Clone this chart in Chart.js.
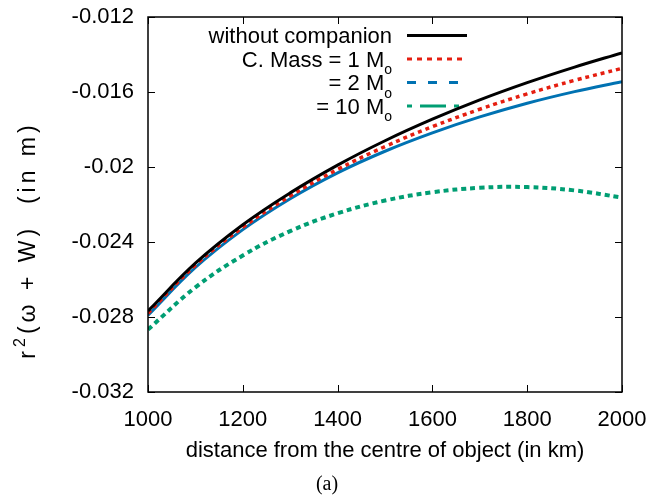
<!DOCTYPE html>
<html>
<head>
<meta charset="utf-8">
<script src="https://cdn.jsdelivr.net/npm/chart.js@4.4.0/dist/chart.umd.min.js"></script>
<style>
  html, body { margin: 0; padding: 0; background: #fff; }
</style>
</head>
<body>
<canvas id="myChart" width="666" height="495"></canvas>
<script>
const distance = [1000, 1100, 1200, 1300, 1400, 1500, 1600, 1700, 1800, 1900, 2000];
const noCompanion = [-0.02768, -0.02513, -0.02308, -0.02138, -0.01990, -0.01860, -0.01745, -0.01642, -0.01550, -0.01467, -0.01391];
const mass1 = [-0.0278, -0.02524, -0.02322, -0.02155, -0.02013, -0.01891, -0.01785, -0.01692, -0.01610, -0.01538, -0.01474];
const mass2 = [-0.02791, -0.02536, -0.02334, -0.02169, -0.02031, -0.01916, -0.01818, -0.01733, -0.01660, -0.01598, -0.01545];
const mass10 = [-0.02867, -0.02642, -0.02472, -0.02342, -0.02247, -0.02179, -0.02135, -0.02111, -0.02107, -0.02125, -0.02163];

const seriesNames = ["without companion", "C. Mass = 1 M", "= 2 M", "= 10 M"];
const seriesSub = ["", "o", "o", "o"];
const xTicks = [1000, 1200, 1400, 1600, 1800, 2000];
const yTicks = [-0.032, -0.028, -0.024, -0.02, -0.016, -0.012];
const yTickLabels = ["-0.032", "-0.028", "-0.024", "-0.02", "-0.016", "-0.012"];

const FONT = "'Liberation Sans', Arial, sans-serif";

function pts(ys) {
  return distance.map((x, i) => ({ x: x, y: ys[i] }));
}

// legend drawn by hand so the text sits left of the sample, with the subscript
const keyLegend = {
  id: "keyLegend",
  beforeDatasetsDraw(chart) {
    const ctx = chart.ctx;
    ctx.save();
    chart.data.datasets.forEach((ds, i) => {
      const y = 35.5 + i * 23.5;
      const right = 392;
      ctx.fillStyle = "#000";
      ctx.textBaseline = "alphabetic";
      ctx.textAlign = "right";
      let textRight = right;
      if (seriesSub[i]) {
        ctx.font = "14px " + FONT;
        const w = ctx.measureText(seriesSub[i]).width;
        ctx.textAlign = "left";
        ctx.fillText(seriesSub[i], right - w, y + 15);
        textRight = right - w;
        ctx.textAlign = "right";
      }
      ctx.font = "22px " + FONT;
      ctx.fillText(ds.label, textRight, y + 7.5);

      ctx.beginPath();
      ctx.setLineDash(ds.keyDash);
      ctx.strokeStyle = ds.borderColor;
      ctx.lineWidth = 3;
      ctx.moveTo(407, y);
      ctx.lineTo(467, y);
      ctx.stroke();
    });
    ctx.restore();
  },
  afterDatasetsDraw(chart) {
    const ctx = chart.ctx;
    const a = chart.chartArea;
    const xs = chart.scales.x, ys = chart.scales.y;
    ctx.save();
    ctx.setLineDash([]);
    ctx.strokeStyle = "#000";
    ctx.lineWidth = 1.5;
    ctx.strokeRect(a.left, a.top, a.right - a.left, a.bottom - a.top);
    ctx.lineWidth = 1;
    ctx.beginPath();
    xTicks.forEach((v) => {
      const px = Math.round(xs.getPixelForValue(v)) + 0.5;
      ctx.moveTo(px, a.bottom); ctx.lineTo(px, a.bottom - 7);
      ctx.moveTo(px, a.top); ctx.lineTo(px, a.top + 7);
    });
    yTicks.forEach((v) => {
      const py = Math.round(ys.getPixelForValue(v)) + 0.5;
      ctx.moveTo(a.left, py); ctx.lineTo(a.left + 7, py);
      ctx.moveTo(a.right, py); ctx.lineTo(a.right - 7, py);
    });
    ctx.stroke();
    ctx.restore();
  },
  afterDraw(chart) {
    const ctx = chart.ctx;
    ctx.save();
    // y axis title with superscript 2, stretched to the reference length
    ctx.translate(29, 240);
    ctx.rotate(-Math.PI / 2);
    ctx.fillStyle = "#000";
    ctx.textBaseline = "middle";
    ctx.textAlign = "left";
    const p1 = "r", p3 = "(\u03c9 + W)  (in m)";
    const sp = 4;
    if ("letterSpacing" in ctx) ctx.letterSpacing = sp + "px";
    ctx.font = "16px " + FONT;
    const w2 = ctx.measureText("2").width;
    ctx.font = "23px " + FONT;
    const w1 = ctx.measureText(p1).width, w3 = ctx.measureText(p3).width;
    const total = w1 + w2 + w3;
    let x = -total / 2;
    ctx.fillText(p1, x, 0);
    x += w1;
    ctx.font = "16px " + FONT;
    ctx.fillText("2", x, -8);
    x += w2;
    ctx.font = "23px " + FONT;
    ctx.fillText(p3, x, 0);
    ctx.restore();

    ctx.save();
    ctx.fillStyle = "#000";
    ctx.textAlign = "center";
    ctx.textBaseline = "middle";
    ctx.font = "20px 'Liberation Serif', 'DejaVu Serif', serif";
    ctx.fillText("(a)", 327, 485);
    ctx.restore();
  }
};

const config = {
  type: "line",
  data: {
    datasets: [
      {
        label: seriesNames[0],
        data: pts(noCompanion),
        borderColor: "#000000",
        borderWidth: 3,
        keyDash: [],
      },
      {
        label: seriesNames[1],
        data: pts(mass1),
        borderColor: "#e51e10",
        borderWidth: 3.5,
        borderDash: [4, 4],
        keyDash: [5, 5],
      },
      {
        label: seriesNames[2],
        data: pts(mass2),
        borderColor: "#0072b2",
        borderWidth: 3,
        keyDash: [9, 12],
      },
      {
        label: seriesNames[3],
        data: pts(mass10),
        borderColor: "#009e73",
        borderWidth: 4,
        borderDash: [5, 4],
        keyDash: [5, 8, 26, 8],
      },
    ],
  },
  options: {
    responsive: false,
    animation: false,
    devicePixelRatio: 1,
    layout: { padding: { top: 17, right: 44, left: 0, bottom: 0 } },
    elements: {
      point: { radius: 0 },
      line: { tension: 0.4, fill: false },
    },
    scales: {
      x: {
        type: "linear",
        min: 1000,
        max: 2000,
        afterBuildTicks: (s) => { s.ticks = xTicks.map((v) => ({ value: v })); },
        afterFit: (s) => { s.height = 103; },
        grid: { display: false, drawTicks: false },
        border: { display: false },
        ticks: {
          color: "#000",
          padding: 15,
          maxRotation: 0,
          font: { family: FONT, size: 22 },
          callback: (v) => String(v),
        },
        title: {
          display: true,
          text: "distance from the centre of object (in km)",
          color: "#000",
          font: { family: FONT, size: 22 },
          padding: { top: 0, bottom: 31 },
        },
      },
      y: {
        type: "linear",
        min: -0.032,
        max: -0.012,
        afterBuildTicks: (s) => { s.ticks = yTicks.map((v) => ({ value: v })); },
        afterFit: (s) => {
          s.width = 148;
          s.paddingTop = 12;
          s.paddingBottom = 12;
        },
        grid: { display: false, drawTicks: false },
        border: { display: false },
        ticks: {
          color: "#000",
          padding: 14,
          font: { family: FONT, size: 22 },
          callback: (v, i) => yTickLabels[i],
        },
      },
    },
    plugins: {
      legend: { display: false },
      tooltip: { enabled: false },
    },
  },
  plugins: [keyLegend],
};

const myChart = new Chart(document.getElementById("myChart"), config);
</script>
</body>
</html>
